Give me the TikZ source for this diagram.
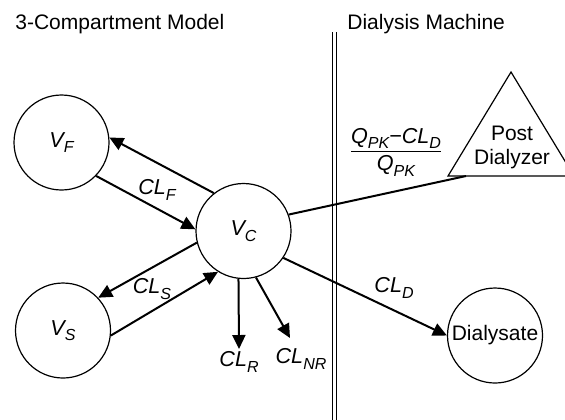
\documentclass[tikz,border=0pt]{standalone}
\usepackage{fontspec}
\setmainfont{Liberation Sans}
\usetikzlibrary{arrows.meta}
\newcommand{\cmpsub}[1]{\raisebox{-0.5ex}{\fontsize{8}{9}\selectfont #1}}

\begin{document}
\begin{tikzpicture}[x=0.5pt, y=-0.5pt,
    comp/.style={circle, draw, line width=0.6pt, minimum size=47.5pt, inner sep=0pt, font=\fontsize{10.5}{12}\selectfont},
    flow/.style={-{Triangle[length=7pt,width=6.5pt]}, line width=1pt},
    lbl/.style={font=\fontsize{10.8}{12}\selectfont\itshape, inner sep=1pt},
    title/.style={anchor=base west, inner sep=0pt, font=\fontsize{10.5}{12}\selectfont}
]
\useasboundingbox (0,0) rectangle (565,419);

% Titles and divider
\node[title] (tmodel) at (15,29) {3-Compartment Model};
\node[title] (tmach) at (347,29) {Dialysis Machine};
\draw[line width=0.5pt, double distance=1.75pt] (334.25,32) -- (334.25,425);

% Compartments
\node[comp] (vf) at (61.5,142.5) {\fontsize{10.8}{12}\selectfont\textit{V\cmpsub{F}}};
\node[comp] (vc) at (243.5,231) {\fontsize{10.8}{12}\selectfont\textit{V\cmpsub{C}}};
\node[comp] (vs) at (63,330.5) {\fontsize{10.8}{12}\selectfont\textit{V\cmpsub{S}}};
\node[comp] (dial) at (495,335.5) {Dialysate};

% Post dialyzer
\coordinate (apex) at (511,72);
\coordinate (bl) at (448,176);
\coordinate (br) at (574,176);
\coordinate (pin) at (466,176);
\draw[line width=0.6pt] (apex) -- (bl) -- (br) -- cycle;
\node[font=\fontsize{10.5}{12}\selectfont, align=center] (post) at (512,147) {Post\\Dialyzer};

% Clearance labels
\node[lbl] (clf) at (157,190) {CL\cmpsub{F}};
\node[lbl] (cls) at (152,289) {CL\cmpsub{S}};
\node[lbl, anchor=north] (clr) at (239,349) {CL\cmpsub{R}};
\node[lbl] (clnr) at (301,359) {CL\cmpsub{NR}};
\node[lbl] (cld) at (394,288) {CL\cmpsub{D}};
\node[inner sep=0pt] (frac) at (396,152) {$\displaystyle\frac{\mbox{\fontsize{10.8}{12}\selectfont\itshape Q\cmpsub{PK}−CL\cmpsub{D}}}{\mbox{\fontsize{10.8}{12}\selectfont\itshape Q\cmpsub{PK}}}$};
\coordinate (nrtip) at (290,338);

% Arrows
\draw[flow] (vc.128.7) -- (vf.6.5);
\draw[flow] (vf.-44) -- (vc.178.8);
\draw[flow] (vc.194.5) -- (vs.43.7);
\draw[flow] (vs.-6.7) -- (vc.238.7);
\draw[flow] (vc.264.6) -- (clr.north);
\draw[flow] (vc.-75.4) -- (nrtip);
\draw[flow] (vc.-34.9) -- (dial.west);
\draw[line width=1pt] (vc.20.9) -- (pin);
\end{tikzpicture}
\end{document}
